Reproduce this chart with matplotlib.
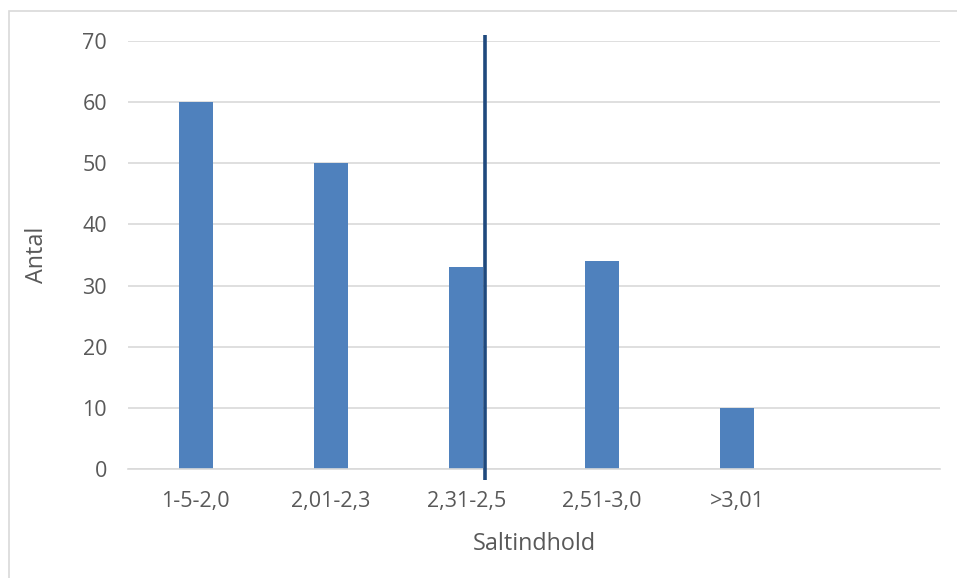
import matplotlib.pyplot as plt
from matplotlib.patches import Rectangle

# data
categories = ["1-5-2,0", "2,01-2,3", "2,31-2,5", "2,51-3,0", ">3,01", ""]
antal = [60, 50, 33, 34, 10, 0]
marker_x = 2.14          # position of vertical marker line (category units)
marker_y = [-1.8, 71.0]

plt.rcParams['font.family'] = ['Open Sans', 'DejaVu Sans']

fig = plt.figure(figsize=(9.57, 5.78), dpi=100)
W, H = 957, 578

# outer chart border (partly cropped in the reference)
fig.patches.append(Rectangle((9 / W, -0.1), 1.2, 1 - 11 / H + 0.1,
                             transform=fig.transFigure, fill=False,
                             edgecolor="#D9D9D9", linewidth=1.2))

ax = fig.add_axes([128 / W, (H - 469) / H, (940 - 128) / W, (469 - 41) / H])

x = range(len(categories))
ax.bar(x, antal, width=0.25, color="#4F81BD", zorder=2)

ax.set_xlim(-0.5, len(categories) - 0.5)
ax.set_ylim(0, 70)
ax.set_yticks(range(0, 71, 10))
ax.set_xticks(list(x))
ax.set_xticklabels(categories)

ax.grid(axis="y", color="#D9D9D9", linewidth=1.2, zorder=0)
for s in ["top", "right", "left"]:
    ax.spines[s].set_visible(False)
ax.spines["bottom"].set_color("#D9D9D9")
ax.spines["bottom"].set_linewidth(1.2)
ax.tick_params(length=0, labelsize=15.5, labelcolor="#595959", pad=16)
ax.tick_params(axis="y", pad=15)

ax.plot([marker_x, marker_x], marker_y, color="#1F497D", linewidth=2.6,
        clip_on=False, zorder=3, solid_capstyle="butt")

ax.set_xlabel("Saltindhold", fontsize=16.8, color="#595959", labelpad=14)
ax.set_ylabel("Antal", fontsize=16.8, color="#595959", labelpad=24)

fig.savefig("out.png", dpi=100)
